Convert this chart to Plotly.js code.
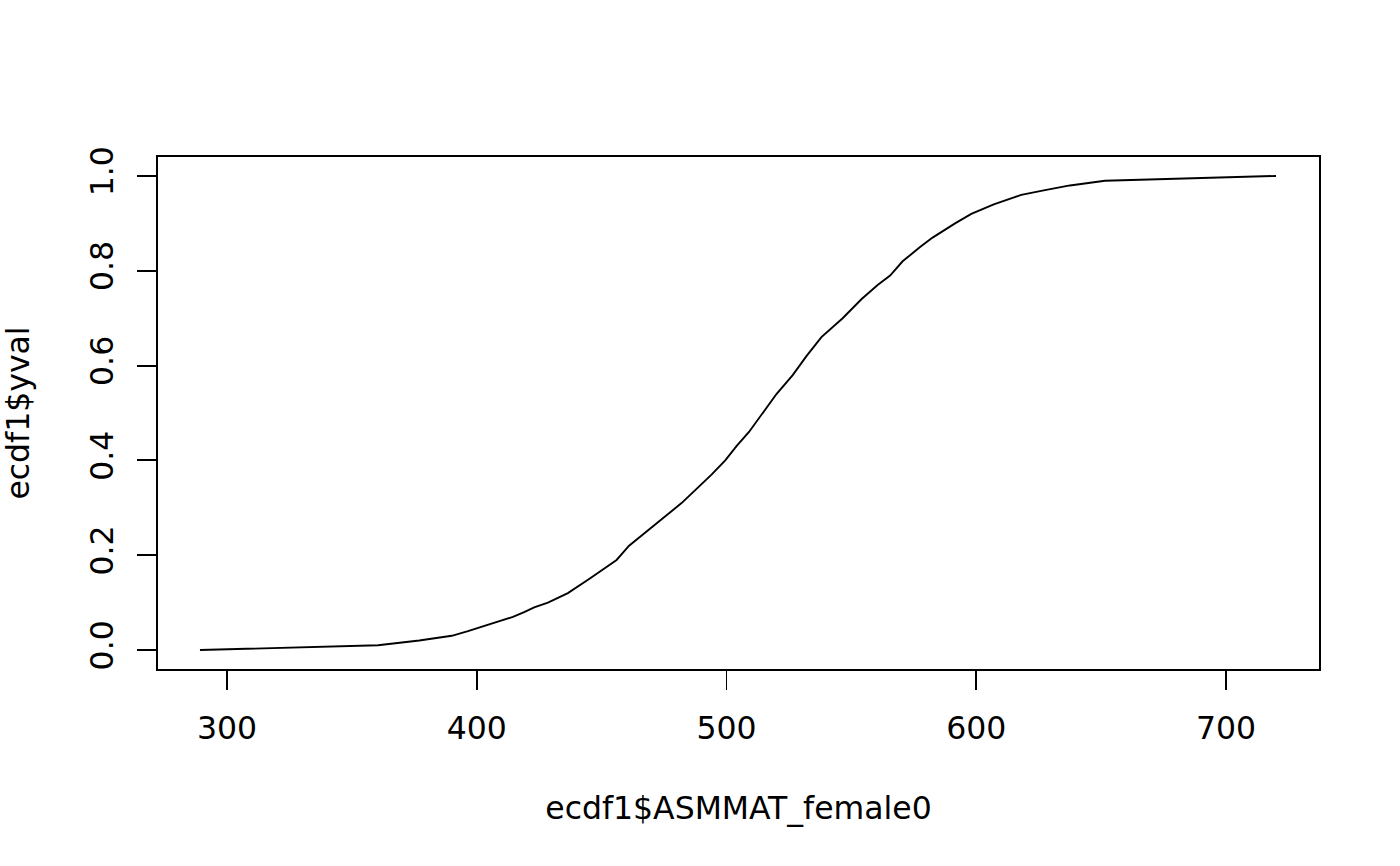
<!DOCTYPE html>
<html>
<head>
<meta charset="utf-8">
<script src="https://cdn.plot.ly/plotly-3.0.1.min.js"></script>
<style>html,body{margin:0;padding:0;background:#fff;}#chart{width:1400px;height:866px;}</style>
</head>
<body>
<div id="chart"></div>
<script>
// ECDF curve values (score vs cumulative proportion)
const scoreValues = [289.2, 360.5, 377, 390, 396.5, 402.5, 408.5, 414.5, 419, 423, 428.5, 436.5, 445, 450.5, 456, 461, 468, 475, 482, 488, 494, 499.5, 504, 509, 514.5, 520, 526.5, 532, 538, 546.5, 554, 560.5, 565.5, 570.5, 577.5, 582.5, 591.5, 598, 607, 618, 627.5, 637.5, 651.5, 720];
const yvalValues  = [0, 0.01, 0.02, 0.03, 0.04, 0.05, 0.06, 0.07, 0.08, 0.09, 0.10, 0.12, 0.15, 0.17, 0.19, 0.22, 0.25, 0.28, 0.31, 0.34, 0.37, 0.40, 0.43, 0.46, 0.50, 0.54, 0.58, 0.62, 0.66, 0.70, 0.74, 0.77, 0.79, 0.82, 0.85, 0.87, 0.90, 0.92, 0.94, 0.96, 0.97, 0.98, 0.99, 1.0];
const xTickValues = [300, 400, 500, 600, 700];
const xTickLabels = ["300", "400", "500", "600", "700"];
const yTickValues = [0, 0.2, 0.4, 0.6, 0.8, 1.0];
const yTickLabels = ["0.0", "0.2", "0.4", "0.6", "0.8", "1.0"];
const xTitle = "ecdf1$ASMMAT_female0";
const yTitle = "ecdf1$yval";

const fontFam = "DejaVu Sans, Liberation Sans, sans-serif";
const fs = 31.5;
const trace = {
  x: scoreValues, y: yvalValues, type: "scatter", mode: "lines",
  line: {color: "#000", width: 1.9}, hoverinfo: "skip"
};
const layout = {
  width: 1400, height: 866,
  paper_bgcolor: "#fff", plot_bgcolor: "#fff",
  margin: {l: 158, r: 81, t: 157, b: 197},
  showlegend: false,
  font: {family: fontFam, size: fs, color: "#000"},
  xaxis: {
    range: [272.4, 737.2], tickmode: "array", tickvals: xTickValues, ticktext: xTickLabels,
    ticks: "outside", ticklen: 19, tickwidth: 1.9, tickcolor: "#000",
    showline: true, linecolor: "#000", linewidth: 1.9, mirror: true,
    showgrid: false, zeroline: false, automargin: false,
    tickfont: {family: fontFam, size: fs, color: "#000"},
    ticklabelstandoff: 11,
    title: {text: xTitle, font: {family: fontFam, size: fs, color: "#000"}, standoff: 52}
  },
  yaxis: {
    range: [-0.04, 1.04], tickmode: "array", tickvals: yTickValues, ticktext: yTickLabels,
    ticks: "outside", ticklen: 19, tickwidth: 1.9, tickcolor: "#000",
    showline: true, linecolor: "#000", linewidth: 1.9, mirror: true,
    showgrid: false, zeroline: false, automargin: false,
    tickangle: -90,
    tickfont: {family: fontFam, size: fs, color: "#000"},
    ticklabelstandoff: 12,
    title: {text: yTitle, font: {family: fontFam, size: fs, color: "#000"}, standoff: 50}
  }
};
Plotly.newPlot("chart", [trace], layout, {displayModeBar: false, staticPlot: true});
</script>
</body>
</html>
